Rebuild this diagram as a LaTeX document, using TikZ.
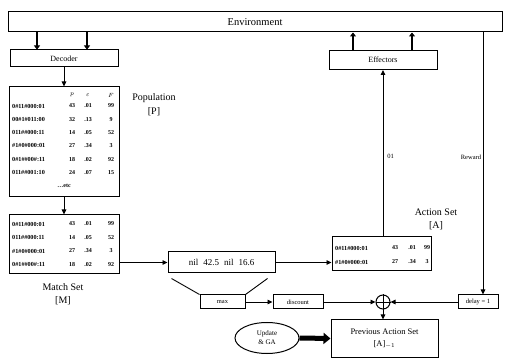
\documentclass[tikz,border=0pt]{standalone}
\usepackage{fontspec}
\setmainfont{Liberation Serif}
\usetikzlibrary{arrows.meta,shapes.geometric}
\begin{document}
\begin{tikzpicture}[x=1pt,y=-1pt,
  box/.style={draw, line width=1pt, rectangle, inner sep=0pt},
  arr/.style={line width=0.9pt, -{Triangle[length=5pt,width=4.5pt]}},
  fat/.style={line width=2.4pt, -{Triangle[length=4pt,width=6pt]}},
  bigarr/.style={line width=5pt, -{Triangle[length=7pt,width=11pt]}},
  cond/.style={anchor=west, inner sep=0pt, font=\fontsize{6.2}{7}\selectfont\bfseries},
  val/.style={inner sep=0pt, font=\fontsize{6}{7}\selectfont\bfseries},
  hdr/.style={inner sep=0pt, font=\fontsize{6.5}{7}\selectfont},
  small/.style={font=\fontsize{6.5}{7.5}\selectfont},
  lab/.style={align=center, font=\fontsize{10}{13.5}\selectfont}]
\useasboundingbox (0,0) rectangle (506,363);

% main boxes
\node[box, minimum width=494pt, minimum height=20pt, font=\fontsize{10.5}{12}\selectfont] (env) at (255,22) {Environment};
\node[box, minimum width=108pt, minimum height=17pt, font=\fontsize{8}{9}\selectfont] (dec) at (64,58.5) {Decoder};
\node[box, minimum width=108pt, minimum height=19pt, font=\fontsize{8}{9}\selectfont] (eff) at (383,60) {Effectors};
\node[box, minimum width=110pt, minimum height=110pt] (pop) at (64,142) {};
\node[box, minimum width=110pt, minimum height=59pt] (match) at (64,244.5) {};
\node[box, minimum width=107pt, minimum height=21pt, font=\fontsize{9}{10}\selectfont] (nilb) at (221.5,262.5) {nil\hspace{5pt}42.5\hspace{5pt}nil\hspace{5pt}16.6};
\node[box, minimum width=99pt, minimum height=34pt] (act) at (381.5,254) {};
\node[box, minimum width=45pt, minimum height=14pt, small] (maxb) at (222.5,302) {max};
\node[box, minimum width=50pt, minimum height=14pt, small] (disc) at (298,302) {discount};
\node[draw, circle, line width=1pt, minimum size=14pt, inner sep=0pt] (plus) at (383,302) {};
\node[box, minimum width=40pt, minimum height=14pt, small] (delay) at (478,302) {delay = 1};
\node[box, minimum width=107pt, minimum height=37pt, align=center, font=\fontsize{8.5}{12}\selectfont] (prev) at (384.5,338.5) {Previous Action Set\\{[A]$_{-1}$}};
\node[draw, ellipse, line width=1pt, minimum width=64pt, minimum height=31pt, inner sep=0pt, align=center, font=\fontsize{7}{9}\selectfont] (upd) at (267,338) {Update\\\& GA};

% outside labels
\node[lab] (poplab) at (154,104.5) {Population\\{[P]}};
\node[lab] (matchlab) at (63,294) {Match Set\\{[M]}};
\node[lab] (actlab) at (436,219.5) {Action Set\\{[A]}};

% population contents
\node[hdr] (hp) at (72,95) {$p$};
\node[hdr] (he) at (88,95) {$\varepsilon$};
\node[hdr] (hf) at (111,95) {$F$};
\foreach \c/\p/\e/\f [count=\i] in {0\#11\#000:01/43/.01/99, 00\#1\#011:00/32/.13/9, 011\#\#000:11/14/.05/52, \#1\#0\#000:01/27/.34/3, 0\#1\#\#00\#:11/18/.02/92, 011\#\#001:10/24/.07/15} {
  \node[cond] (pc\i) at (12,{92.7+13.3*\i}) {\c};
  \node[val] (pp\i) at (72,{92.7+13.3*\i}) {\p};
  \node[val] (pe\i) at (88,{92.7+13.3*\i}) {\e};
  \node[val] (pf\i) at (111,{92.7+13.3*\i}) {\f};
}
\node[val] (petc) at (64,186) {\dots etc};

% match set contents
\foreach \c/\p/\e/\f [count=\i] in {0\#11\#000:01/43/.01/99, 011\#\#000:11/14/.05/52, \#1\#0\#000:01/27/.34/3, 0\#1\#\#00\#:11/18/.02/92} {
  \node[cond] (mc\i) at (12,{210.5+13.5*\i}) {\c};
  \node[val] (mp\i) at (72,{210.5+13.5*\i}) {\p};
  \node[val] (me\i) at (88,{210.5+13.5*\i}) {\e};
  \node[val] (mf\i) at (111,{210.5+13.5*\i}) {\f};
}

% action set contents
\foreach \c/\p/\e/\f [count=\i] in {0\#11\#000:01/43/.01/99, \#1\#0\#000:01/27/.34/3} {
  \node[cond] (ac\i) at (335,{234+14*\i}) {\c};
  \node[val] (ap\i) at (395,{234+14*\i}) {\p};
  \node[val] (ae\i) at (412,{234+14*\i}) {\e};
  \node[val] (af\i) at (427,{234+14*\i}) {\f};
}

% helper coordinates
\coordinate (d1) at ([xshift=-27pt]dec.north);
\coordinate (d2) at ([xshift=23pt]dec.north);
\coordinate (e1) at ([xshift=-30pt]eff.north);
\coordinate (e2) at ([xshift=29pt]eff.north);
\coordinate (rw) at ([xshift=5pt]delay.north);
\coordinate (nl1) at ([xshift=4pt,yshift=-5pt]nilb.south west);
\coordinate (nl2) at ([xshift=-8pt,yshift=-5pt]nilb.south east);

% connectors
\draw[fat] (d1 |- env.south) -- (d1);
\draw[fat] (d2 |- env.south) -- (d2);
\draw[fat] (e1) -- (e1 |- env.south);
\draw[fat] (e2) -- (e2 |- env.south);
\draw[arr] (dec.south) -- (pop.north);
\draw[arr] (pop.south) -- (match.north);
\draw[arr] (match.east |- nilb.west) -- (nilb.west);
\draw[arr] (nilb.east) -- (nilb.east -| act.west);
\draw[line width=0.9pt] (nl1) -- (maxb.north west);
\draw[line width=0.9pt] (nl2) -- (maxb.north east);
\draw[arr] (maxb) -- (disc);
\draw[arr] (disc) -- (plus);
\draw[arr] (delay) -- (plus);
\draw[arr] (plus.south) -- (plus.south |- prev.north);
\draw[line width=0.9pt] (plus.north) -- (plus.south) (plus.west) -- (plus.east);
\draw[arr] (act.north -| eff.south) -- (eff.south) node[pos=0.48, right, small, inner sep=4pt] (lab01) {01};
\draw[arr] (rw |- env.south) -- (rw) node[pos=0.475, left, small, inner sep=1.5pt] (labrw) {Reward};
\draw[bigarr] (upd.east) -- (prev.west);
\end{tikzpicture}
\end{document}
